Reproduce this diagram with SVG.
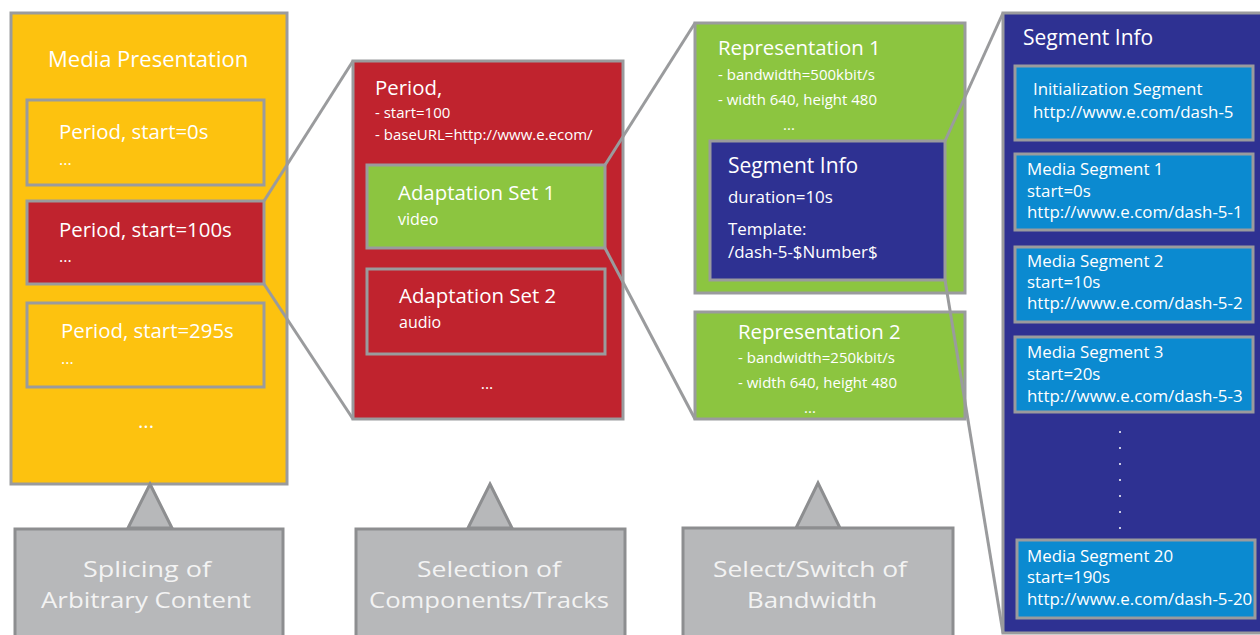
<svg xmlns="http://www.w3.org/2000/svg" width="1260" height="635" viewBox="0 0 1260 635">
<style>
text{font-family:"Open Sans","Noto Sans","DejaVu Sans",sans-serif;fill:#ffffff}
.box{stroke:#9a9b9d;stroke-width:3}
.yel{fill:#fdc20f}.red{fill:#c0232e}.grn{fill:#8cc540}.dblue{fill:#2e3192}.lblue{fill:#0b8ad0}
.gbox{fill:#b7b8ba;stroke:#8d8e90;stroke-width:3}
.t22{font-size:22px}.t20{font-size:20.4px}.t15{font-size:15px}.t16{font-size:16px}.t17{font-size:16.9px}
.big{font-size:22.5px;fill:#f3f3f3;text-anchor:middle}
.conn{stroke:#9a9b9d;stroke-width:3;fill:none}
.mid{text-anchor:middle}
</style>
<rect width="1260" height="635" fill="#ffffff"/>

<g id="media-presentation">
<rect class="box yel" x="11" y="13" width="276" height="471"/>
<text class="t22" x="48" y="67">Media Presentation</text>
<text class="t20 mid" x="146" y="428">...</text>
</g>
<g id="period-0">
<rect class="box yel" x="27" y="100" width="237" height="85"/>
<text class="t20" x="59" y="139">Period, start=0s</text>
<text class="t16" x="59" y="165">...</text>
</g>
<g id="period-100">
<rect class="box red" x="27" y="201" width="237" height="83"/>
<text class="t20" x="59" y="237">Period, start=100s</text>
<text class="t16" x="59" y="262">...</text>
</g>
<g id="period-295">
<rect class="box yel" x="27" y="303" width="237" height="84"/>
<text class="t20" x="61" y="338">Period, start=295s</text>
<text class="t16" x="61" y="364">...</text>
</g>

<g id="period-detail">
<rect class="box red" x="353" y="61" width="270" height="358"/>
<text class="t20" x="375" y="95">Period,</text>
<text class="t15" x="375" y="118">- start=100</text>
<text class="t15" x="375" y="140">- baseURL=http://www.e.ecom/</text>
<text class="t16 mid" x="487" y="389">...</text>
</g>
<g id="adaptation-set-1">
<rect class="box grn" x="367" y="165" width="238" height="83"/>
<text class="t20" x="398" y="200">Adaptation Set 1</text>
<text class="t16" x="398" y="225">video</text>
</g>
<g id="adaptation-set-2">
<rect class="box red" x="367" y="269" width="238" height="85"/>
<text class="t20" x="399" y="303">Adaptation Set 2</text>
<text class="t16" x="399" y="328">audio</text>
</g>

<g id="representation-1">
<rect class="box grn" x="695" y="23" width="270" height="270"/>
<text class="t20" x="718" y="55">Representation 1</text>
<text class="t15" x="718" y="80">- bandwidth=500kbit/s</text>
<text class="t15" x="718" y="105">- width 640, height 480</text>
<text class="t15 mid" x="789" y="130">...</text>
</g>
<g id="segment-info-small">
<rect class="box dblue" x="710" y="141" width="235" height="139"/>
<text class="t20" x="728" y="173" style="font-size:21px">Segment Info</text>
<text class="t17" x="728" y="203">duration=10s</text>
<text class="t17" x="728" y="235">Template:</text>
<text class="t17" x="728" y="258">/dash-5-$Number$</text>
</g>
<g id="representation-2">
<rect class="box grn" x="695" y="312" width="270" height="107"/>
<text class="t20" x="738" y="339">Representation 2</text>
<text class="t15" x="738" y="363">- bandwidth=250kbit/s</text>
<text class="t15" x="738" y="388">- width 640, height 480</text>
<text class="t15 mid" x="810" y="413">...</text>
</g>

<g id="segment-info-big">
<rect class="box dblue" x="1003" y="13" width="262" height="620"/>
<text class="t20" x="1023" y="45" style="font-size:21px">Segment Info</text>
<g fill="#ffffff">
<circle cx="1120" cy="432" r="1"/><circle cx="1120" cy="448" r="1"/><circle cx="1120" cy="464" r="1"/><circle cx="1120" cy="480" r="1"/><circle cx="1120" cy="496" r="1"/><circle cx="1120" cy="512" r="1"/><circle cx="1120" cy="528" r="1"/>
</g>
</g>
<g id="init-segment">
<rect class="box lblue" x="1015" y="66" width="238" height="74"/>
<text class="t17" x="1033" y="95">Initialization Segment</text>
<text class="t17" x="1033" y="118">http://www.e.com/dash-5</text>
</g>
<g id="media-segment-1">
<rect class="box lblue" x="1015" y="154" width="238" height="76"/>
<text class="t17" x="1027" y="175">Media Segment 1</text>
<text class="t17" x="1027" y="197">start=0s</text>
<text class="t17" x="1027" y="218">http://www.e.com/dash-5-1</text>
</g>
<g id="media-segment-2">
<rect class="box lblue" x="1015" y="247" width="238" height="75"/>
<text class="t17" x="1027" y="267">Media Segment 2</text>
<text class="t17" x="1027" y="288">start=10s</text>
<text class="t17" x="1027" y="309">http://www.e.com/dash-5-2</text>
</g>
<g id="media-segment-3">
<rect class="box lblue" x="1015" y="337" width="238" height="75"/>
<text class="t17" x="1027" y="358">Media Segment 3</text>
<text class="t17" x="1027" y="380">start=20s</text>
<text class="t17" x="1027" y="402">http://www.e.com/dash-5-3</text>
</g>
<g id="media-segment-20">
<rect class="box lblue" x="1017" y="540" width="238" height="78"/>
<text class="t17" x="1027" y="562">Media Segment 20</text>
<text class="t17" x="1027" y="583">start=190s</text>
<text class="t17" x="1027" y="605">http://www.e.com/dash-5-20</text>
</g>

<g id="label-splicing">
<polygon class="gbox" points="150,484 172,528 128,528"/>
<rect class="gbox" x="15" y="529" width="268" height="110"/>
<text class="big" x="147" y="577" textLength="128" lengthAdjust="spacingAndGlyphs">Splicing of</text>
<text class="big" x="146" y="608" textLength="210" lengthAdjust="spacingAndGlyphs">Arbitrary Content</text>
</g>
<g id="label-selection">
<polygon class="gbox" points="490,484 512,528 468,528"/>
<rect class="gbox" x="356" y="529" width="269" height="110"/>
<text class="big" x="489" y="577" textLength="144" lengthAdjust="spacingAndGlyphs">Selection of</text>
<text class="big" x="489" y="608" textLength="240" lengthAdjust="spacingAndGlyphs">Components/Tracks</text>
</g>
<g id="label-switch">
<polygon class="gbox" points="818,483 840,528 796,528"/>
<rect class="gbox" x="683" y="528" width="270" height="110"/>
<text class="big" x="810" y="577" textLength="194" lengthAdjust="spacingAndGlyphs">Select/Switch of</text>
<text class="big" x="812" y="608" textLength="130" lengthAdjust="spacingAndGlyphs">Bandwidth</text>
</g>

<g id="connectors" class="conn">
<line x1="264" y1="201" x2="353" y2="61"/>
<line x1="264" y1="284" x2="353" y2="419"/>
<line x1="605" y1="165" x2="695" y2="23"/>
<line x1="605" y1="248" x2="695" y2="419"/>
<line x1="945" y1="141" x2="1003" y2="13"/>
<line x1="945" y1="280" x2="1003" y2="633"/>
</g>
</svg>
